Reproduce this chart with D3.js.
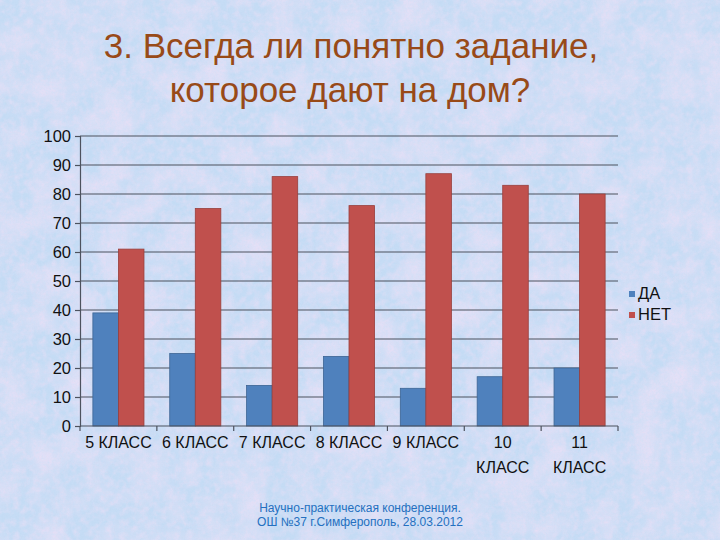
<!DOCTYPE html>
<html><head><meta charset="utf-8">
<script src="https://cdn.jsdelivr.net/npm/d3@7"></script>
<style>html,body{margin:0;padding:0;background:#c8dcf3;}svg{display:block;}</style>
</head><body>
<script>
const categories = ["5 КЛАСС","6 КЛАСС","7 КЛАСС","8 КЛАСС","9 КЛАСС","10 КЛАСС","11 КЛАСС"];
const catLines = [["5 КЛАСС"],["6 КЛАСС"],["7 КЛАСС"],["8 КЛАСС"],["9 КЛАСС"],["10","КЛАСС"],["11","КЛАСС"]];
const seriesNames = ["ДА","НЕТ"];
const da  = [39, 25, 14, 24, 13, 17, 20];
const net = [61, 75, 86, 76, 87, 83, 80];
const yTicks = [0,10,20,30,40,50,60,70,80,90,100];
const colors = ["#4F81BD","#C0504D"];

const W=720,H=540;
const FONT="Liberation Sans, Arial, sans-serif";
const svg=d3.select("body").append("svg").attr("width",W).attr("height",H);
const defs=svg.append("defs");
function noise(id,freq,oct,seed,r,gg,b,a,off){
  const f=defs.append("filter").attr("id",id).attr("x",0).attr("y",0).attr("width","100%").attr("height","100%");
  f.append("feTurbulence").attr("type","fractalNoise").attr("baseFrequency",freq).attr("numOctaves",oct).attr("seed",seed).attr("result","n");
  f.append("feColorMatrix").attr("in","n").attr("type","matrix")
   .attr("values",`0 0 0 0 ${r}  0 0 0 0 ${gg}  0 0 0 0 ${b}  ${a} 0 0 0 ${off}`);
}
noise("tex2",0.03,2,9,0.87,0.76,0.93,1.6,-0.6);
noise("tex",0.15,3,4,0.86,0.74,0.92,1.6,-0.6);
noise("tex3",0.5,2,7,0.6,0.74,0.94,1.6,-0.6);

svg.append("rect").attr("width",W).attr("height",H).attr("fill","#c4dbf4");
svg.append("rect").attr("width",W).attr("height",H).attr("filter","url(#tex2)").attr("opacity",0.9);
svg.append("rect").attr("width",W).attr("height",H).attr("filter","url(#tex)").attr("opacity",0.7);
svg.append("rect").attr("width",W).attr("height",H).attr("filter","url(#tex3)").attr("opacity",0.6);

const title=svg.append("text").attr("text-anchor","middle").attr("fill","#984A18")
 .attr("font-family",FONT).attr("font-size",35);
title.append("tspan").attr("x",351).attr("y",58).text("3. Всегда ли понятно задание,");
title.append("tspan").attr("x",350).attr("y",102).text("которое дают на дом?");

const x0=80,x1=618,yTop=136,yBot=426;
const x=d3.scaleBand().domain(categories).range([x0,x1]).paddingInner(0.335).paddingOuter(0.1675);
const xs=d3.scaleBand().domain(seriesNames).range([0,x.bandwidth()]);
const y=d3.scaleLinear().domain([0,100]).range([yBot,yTop]);

const g=svg.append("g");
g.selectAll("line.grid").data(yTicks.filter(d=>d>0)).join("line")
 .attr("x1",x0).attr("x2",x1).attr("y1",d=>y(d)).attr("y2",d=>y(d))
 .attr("stroke","#4d525e").attr("stroke-width",1.2);

const data=categories.map((c,i)=>({c,vals:[da[i],net[i]]}));
const grp=g.selectAll("g.cat").data(data).join("g").attr("transform",d=>`translate(${x(d.c)},0)`);
grp.selectAll("rect").data(d=>d.vals.map((v,j)=>({v,s:seriesNames[j],j}))).join("rect")
 .attr("x",d=>xs(d.s)).attr("width",xs.bandwidth())
 .attr("y",d=>y(d.v)).attr("height",d=>y(0)-y(d.v))
 .attr("fill",d=>colors[d.j]).attr("stroke",d=>d.j===0?"#3d6594":"#983f3c").attr("stroke-width",0.8);

const yAxis=d3.axisLeft(y).tickValues(yTicks).tickSize(5).tickPadding(4);
const ya=g.append("g").attr("transform",`translate(${x0},0)`).call(yAxis);
ya.select(".domain").attr("stroke","#4d525e").attr("stroke-width",1.2);
ya.selectAll(".tick line").attr("stroke","#4d525e").attr("stroke-width",1.2);
ya.selectAll(".tick text").attr("font-family",FONT).attr("font-size",16.5).attr("fill","#111");

const step=x.step();
const xa=g.append("g").attr("transform",`translate(0,${yBot})`);
xa.append("line").attr("x1",x0).attr("x2",x1).attr("stroke","#4d525e").attr("stroke-width",1.2);
xa.selectAll("line.tk").data(d3.range(categories.length+1)).join("line")
 .attr("x1",i=>x0+i*step).attr("x2",i=>x0+i*step).attr("y1",0).attr("y2",5)
 .attr("stroke","#4d525e").attr("stroke-width",1.2);
xa.selectAll("text").data(categories).join("text")
 .attr("text-anchor","middle").attr("font-family",FONT).attr("font-size",16).attr("fill","#111")
 .each(function(c,i){
   const t=d3.select(this);
   catLines[i].forEach((ln,k)=>t.append("tspan").attr("x",x(c)+x.bandwidth()/2).attr("y",22+k*25).text(ln));
 });

const lg=svg.append("g").attr("transform","translate(629,294)");
seriesNames.forEach((s,i)=>{
  lg.append("rect").attr("x",0).attr("y",i*21-3).attr("width",6).attr("height",6).attr("fill",colors[i]);
  lg.append("text").attr("x",9).attr("y",i*21+5).attr("font-family",FONT)
    .attr("font-size",16.5).attr("fill","#111").text(s);
});

const ft=svg.append("text").attr("text-anchor","middle").attr("fill","#2470C0")
 .attr("font-family",FONT).attr("font-size",12);
ft.append("tspan").attr("x",360).attr("y",512).text("Научно-практическая конференция.");
ft.append("tspan").attr("x",360).attr("y",526).text("ОШ №37 г.Симферополь,  28.03.2012");
</script>
</body></html>
